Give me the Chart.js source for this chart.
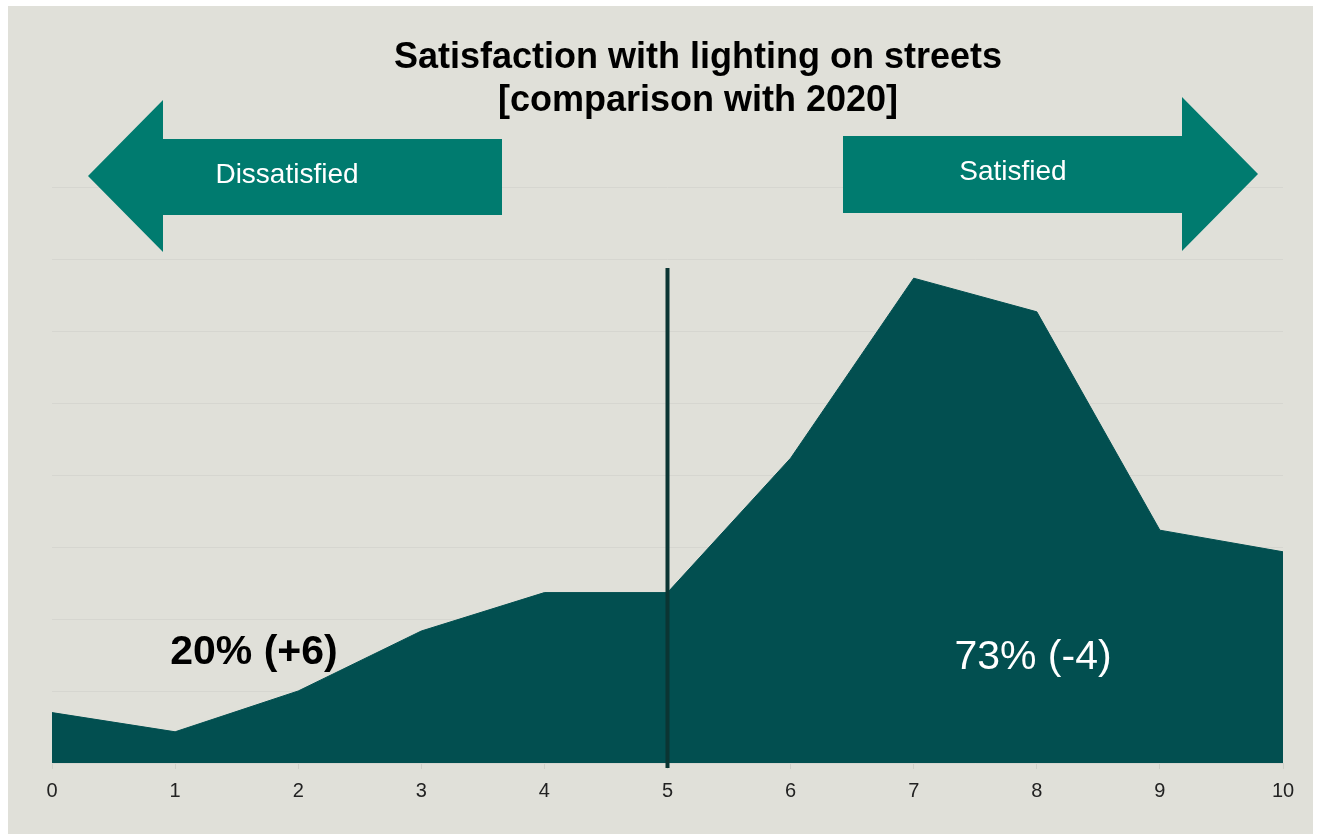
<!DOCTYPE html>
<html>
<head>
<meta charset="utf-8">
<style>
  html, body { margin: 0; background: #ffffff; }
  #wrap { width: 1321px; height: 836px; }
</style>
<script src="https://cdn.jsdelivr.net/npm/chart.js@4"></script>
</head>
<body>
<div id="wrap"><canvas id="chart"></canvas></div>
<script>
/* ================= Data ================= */
const scores = ['0','1','2','3','4','5','6','7','8','9','10'];
const shares = [2.1, 1.3, 3.0, 5.5, 7.1, 7.1, 12.7, 20.2, 18.8, 9.7, 8.8];
const titleLines = ['Satisfaction with lighting on streets', '[comparison with 2020]'];
const groupLabels = ['Dissatisfied', 'Satisfied'];
const groupTotals = ['20% (+6)', '73% (-4)'];
const yMax = 24;
const yStep = 3;

const FONT = '"Liberation Sans", Arial, sans-serif';
const BG = '#e0e0d9';
const AREA = '#024f50';
const ARROW = '#007b6f';

/* ================= Decorations ================= */
const deco = {
  id: 'deco',
  beforeDraw(c){
    const g = c.ctx;
    g.save();
    g.fillStyle = BG;
    g.fillRect(8, 6, 1305, 828);
    g.restore();
  },
  afterDatasetsDraw(c){
    const g = c.ctx, x = c.scales.x;
    const px = x.getPixelForValue(5);
    g.save();
    g.strokeStyle = '#0b3533';
    g.lineWidth = 4;
    g.beginPath();
    g.moveTo(px, 268);
    g.lineTo(px, 768);
    g.stroke();
    g.restore();
  },
  afterDraw(c){
    const g = c.ctx;
    g.save();
    // arrows
    g.fillStyle = ARROW;
    g.beginPath();
    g.moveTo(88, 176); g.lineTo(163, 100); g.lineTo(163, 139);
    g.lineTo(502, 139); g.lineTo(502, 215); g.lineTo(163, 215);
    g.lineTo(163, 252); g.closePath(); g.fill();

    g.beginPath();
    g.moveTo(1258, 174); g.lineTo(1182, 97); g.lineTo(1182, 136);
    g.lineTo(843, 136); g.lineTo(843, 213); g.lineTo(1182, 213);
    g.lineTo(1182, 251); g.closePath(); g.fill();

    g.textAlign = 'center';
    g.textBaseline = 'alphabetic';
    g.fillStyle = '#ffffff';
    g.font = '28px ' + FONT;
    g.fillText(groupLabels[0], 287, 183);
    g.fillText(groupLabels[1], 1013, 180);

    // title
    g.fillStyle = '#000000';
    g.font = 'bold 36px ' + FONT;
    g.fillText(titleLines[0], 698, 68);
    g.fillText(titleLines[1], 698, 111);

    // totals
    g.font = 'bold 41px ' + FONT;
    g.fillStyle = '#000000';
    g.fillText(groupTotals[0], 254, 664);
    g.font = '41px ' + FONT;
    g.fillStyle = '#ffffff';
    g.fillText(groupTotals[1], 1033, 669);
    g.restore();
  }
};

/* ================= Chart ================= */
new Chart(document.getElementById('chart'), {
  type: 'line',
  data: {
    labels: scores,
    datasets: [{
      data: shares,
      fill: 'origin',
      backgroundColor: AREA,
      borderColor: AREA,
      borderWidth: 1,
      pointRadius: 0,
      tension: 0
    }]
  },
  options: {
    responsive: true,
    maintainAspectRatio: false,
    animation: false,
    layout: { padding: { left: 52, right: 38, top: 187, bottom: 23 } },
    plugins: { legend: { display: false }, tooltip: { enabled: false } },
    scales: {
      x: {
        offset: false,
        border: { display: false },
        grid: { drawOnChartArea: false, drawTicks: true, tickLength: 6, color: '#cfcfc8' },
        ticks: { color: '#222222', font: { size: 20, family: FONT }, padding: 10, maxRotation: 0 }
      },
      y: {
        min: 0, max: yMax,
        border: { display: false },
        grid: { color: '#d6d6d0', drawTicks: false },
        ticks: { display: false, stepSize: yStep }
      }
    }
  },
  plugins: [deco]
});
</script>
</body>
</html>
